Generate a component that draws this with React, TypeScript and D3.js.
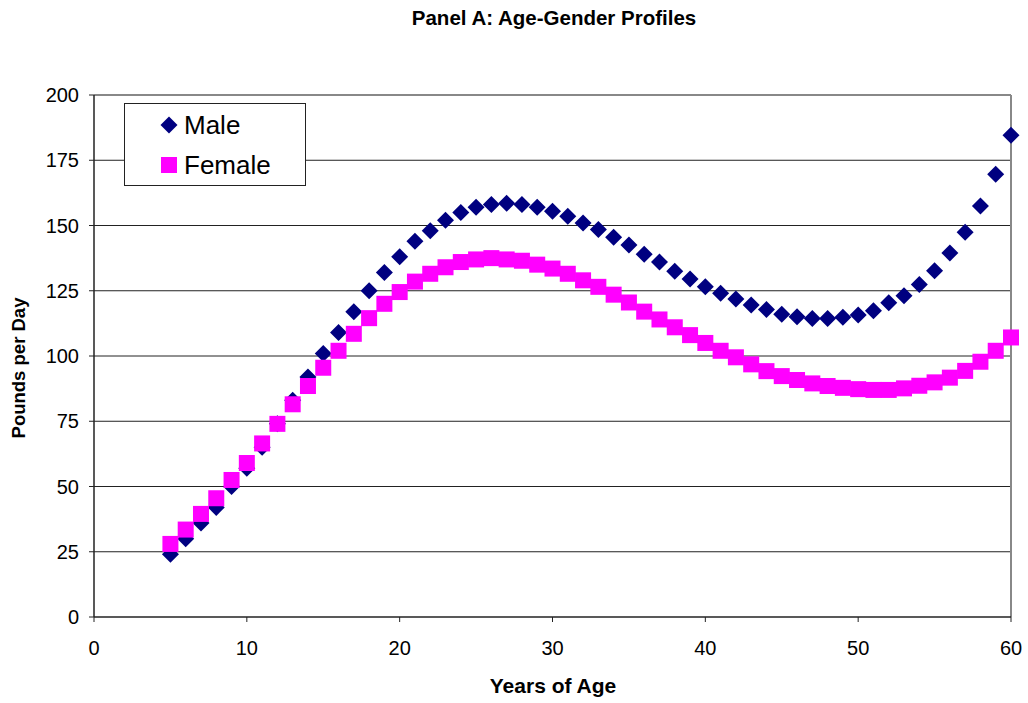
import React from 'react';
import * as d3 from 'd3';

const ages = d3.range(5, 61);

const maleValues = [
  24, 30, 36, 42, 50, 57, 65, 74, 83, 92,
  101, 109, 117, 125, 132, 138, 144, 148, 152, 155,
  157, 158, 158.5, 158, 157, 155.5, 153.5, 151, 148.5, 145.5,
  142.5, 139, 136, 132.5, 129.5, 126.5, 124, 121.8, 119.5, 117.8,
  116, 115, 114.4, 114.4, 114.8, 115.7, 117.3, 120.4, 123.1, 127.4,
  132.7, 139.5, 147.4, 157.5, 169.6, 184.6,
];

const femaleValues = [
  28, 33.5, 39.5, 45.5, 52.5, 59, 66.5, 74, 81.5, 88.5,
  95.5, 102, 108.5, 114.5, 120, 124.5, 128.5, 131.5, 134, 136,
  137, 137.5, 137, 136.5, 135, 133.5, 131.5, 129, 126.5, 123.5,
  120.5, 117, 114, 111, 108, 105, 102, 99.5, 96.8, 94.2,
  92.3, 90.8, 89.5, 88.5, 87.8, 87.3, 87, 87, 87.6, 88.6,
  89.9, 91.7, 94.3, 97.8, 102, 107.1,
];

const xTicks = [0, 10, 20, 30, 40, 50, 60];
const yTicks = [0, 25, 50, 75, 100, 125, 150, 175, 200];

const W = 1028;
const H = 703;
const margin = { left: 94, right: 17, top: 95, bottom: 86 };
const font = 'Arial, "Liberation Sans", sans-serif';

export default function App() {
  const x = d3.scaleLinear().domain([0, 60]).range([margin.left, W - margin.right]);
  const y = d3.scaleLinear().domain([0, 200]).range([H - margin.bottom, margin.top]);
  const male = ages.map((a, i) => ({ a, v: maleValues[i] }));
  const female = ages.map((a, i) => ({ a, v: femaleValues[i] }));
  const ds = 8.5;
  const sq = 16;

  return (
    <svg width={W} height={H} style={{ position: 'absolute', left: 0, top: 0 }} fontFamily={font}>
      <rect width={W} height={H} fill="#fff" />
      <text x={554} y={25} textAnchor="middle" fontSize={20.5} fontWeight="bold">
        Panel A: Age-Gender Profiles
      </text>

      {/* grid */}
      {yTicks.slice(1, -1).map(t => (
        <line key={t} x1={x(0)} x2={x(60)} y1={y(t)} y2={y(t)} stroke="#222" strokeWidth={1} />
      ))}
      {/* plot frame */}
      <line x1={x(0)} x2={x(60)} y1={y(200)} y2={y(200)} stroke="#888" strokeWidth={2} />
      <line x1={x(60)} x2={x(60)} y1={y(200)} y2={y(0)} stroke="#888" strokeWidth={2} />
      <line x1={x(0)} x2={x(0)} y1={y(200)} y2={y(0)} stroke="#222" strokeWidth={1.5} />
      <line x1={x(0)} x2={x(60)} y1={y(0)} y2={y(0)} stroke="#222" strokeWidth={1.5} />

      {/* ticks */}
      {yTicks.map(t => (
        <g key={t}>
          <line x1={x(0) - 5} x2={x(0)} y1={y(t)} y2={y(t)} stroke="#222" />
          <text x={x(0) - 15} y={y(t)} dy="0.35em" textAnchor="end" fontSize={20}>{t}</text>
        </g>
      ))}
      {xTicks.map(t => (
        <g key={t}>
          <line x1={x(t)} x2={x(t)} y1={y(0)} y2={y(0) + 5} stroke="#222" />
          <text x={x(t)} y={y(0) + 38} textAnchor="middle" fontSize={20}>{t}</text>
        </g>
      ))}

      <text x={553} y={693} textAnchor="middle" fontSize={21} fontWeight="bold">Years of Age</text>
      <text transform={`translate(25,${(y(0) + y(200)) / 2 + 12}) rotate(-90)`} textAnchor="middle" fontSize={18.5} fontWeight="bold">
        Pounds per Day
      </text>

      {/* series */}
      {male.map(d => (
        <path key={'m' + d.a}
          d={`M${x(d.a)},${y(d.v) - ds}L${x(d.a) + ds},${y(d.v)}L${x(d.a)},${y(d.v) + ds}L${x(d.a) - ds},${y(d.v)}Z`}
          fill="#000080" />
      ))}
      {female.map(d => (
        <rect key={'f' + d.a} x={x(d.a) - sq / 2} y={y(d.v) - sq / 2} width={sq} height={sq} fill="#ff00ff" />
      ))}

      {/* legend */}
      <rect x={124.5} y={103.5} width={181} height={82} fill="#fff" stroke="#222" strokeWidth={1} />
      <path d={`M169,${125 - ds}L${169 + ds},125L169,${125 + ds}L${169 - ds},125Z`} fill="#000080" />
      <text x={184} y={125} dy="0.35em" fontSize={26}>Male</text>
      <rect x={161} y={157} width={16} height={16} fill="#ff00ff" />
      <text x={184} y={165} dy="0.35em" fontSize={26}>Female</text>
    </svg>
  );
}
